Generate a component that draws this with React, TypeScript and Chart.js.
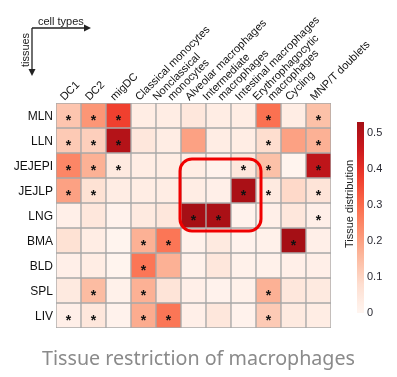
import React, { useEffect, useRef } from 'react';
import { Chart, registerables } from 'chart.js';

Chart.register(...registerables);

// ---- data ----
const tissues = ['MLN', 'LLN', 'JEJEPI', 'JEJLP', 'LNG', 'BMA', 'BLD', 'SPL', 'LIV'];
const cellTypes = [
  'DC1',
  'DC2',
  'migDC',
  'Classical monocytes',
  'Nonclassical\nmonocytes',
  'Alveolar macrophages',
  'Intermediate\nmacrophages',
  'Intestinal macrophages',
  'Erythrophagocytic\nmacrophages',
  'Cycling',
  'MNP/T doublets',
];

const valuesMLN = [0.13, 0.22, 0.37, 0.03, 0.03, 0.05, 0.03, 0.03, 0.29, 0.03, 0.14];
const valuesLLN = [0.12, 0.11, 0.5, 0.05, 0.03, 0.2, 0.03, 0.03, 0.08, 0.2, 0.17];
const valuesJEJEPI = [0.25, 0.17, 0.04, 0.03, 0.03, 0.03, 0.01, 0.05, 0.14, 0.005, 0.48];
const valuesJEJLP = [0.2, 0.07, 0.03, 0.03, 0.03, 0.03, 0.02, 0.52, 0.04, 0.09, 0.06];
const valuesLNG = [0.02, 0.05, 0.01, 0.04, 0.05, 0.53, 0.52, 0.01, 0.02, 0.05, 0.02];
const valuesBMA = [0.07, 0.03, 0.005, 0.17, 0.28, 0.015, 0.04, 0.01, 0.015, 0.53, 0.02];
const valuesBLD = [0.02, 0.03, 0.005, 0.28, 0.17, 0.015, 0.05, 0.015, 0.015, 0.02, 0.02];
const valuesSPL = [0.04, 0.15, 0.015, 0.17, 0.06, 0.02, 0.01, 0.015, 0.17, 0.05, 0.04];
const valuesLIV = [0.02, 0.05, 0.01, 0.18, 0.28, 0.02, 0.05, 0.01, 0.12, 0.04, 0.03];
const values = [valuesMLN, valuesLLN, valuesJEJEPI, valuesJEJLP, valuesLNG, valuesBMA, valuesBLD, valuesSPL, valuesLIV];

// significance marks (1 = asterisk)
const starsMLN = [1, 1, 1, 0, 0, 0, 0, 0, 1, 0, 1];
const starsLLN = [1, 1, 1, 0, 0, 0, 0, 0, 1, 0, 1];
const starsJEJEPI = [1, 1, 1, 0, 0, 0, 0, 1, 1, 0, 1];
const starsJEJLP = [1, 1, 0, 0, 0, 0, 0, 1, 1, 0, 1];
const starsLNG = [0, 0, 0, 0, 0, 1, 1, 0, 0, 0, 1];
const starsBMA = [0, 0, 0, 1, 1, 0, 0, 0, 0, 1, 0];
const starsBLD = [0, 0, 0, 1, 0, 0, 0, 0, 0, 0, 0];
const starsSPL = [0, 1, 0, 1, 0, 0, 0, 0, 1, 0, 0];
const starsLIV = [1, 1, 0, 1, 1, 0, 0, 0, 1, 0, 0];
const stars = [starsMLN, starsLLN, starsJEJEPI, starsJEJLP, starsLNG, starsBMA, starsBLD, starsSPL, starsLIV];

const colorbarTicks = [0, 0.1, 0.2, 0.3, 0.4, 0.5];
const colorMax = 0.53;
const highlightCols = [5, 7]; // Alveolar .. Intestinal
const highlightRows = [2, 4]; // JEJEPI .. LNG

// ---- colour map (matplotlib "Reds", truncated) ----
const REDS: number[][] = [
  [255, 245, 240], [254, 224, 210], [252, 187, 161], [252, 146, 114], [251, 106, 74],
  [239, 59, 44], [203, 24, 29], [165, 15, 21], [103, 0, 13],
];
function reds(t: number): string {
  const c = Math.max(0, Math.min(1, t)) * (REDS.length - 1);
  const i = Math.min(REDS.length - 2, Math.floor(c));
  const f = c - i;
  const a = REDS[i], b = REDS[i + 1];
  const m = (k: number) => Math.round(a[k] + (b[k] - a[k]) * f);
  return `rgb(${m(0)},${m(1)},${m(2)})`;
}
const colorOf = (v: number) => reds(Math.min(v / colorMax, 1) * 0.875);

const FONT = '"Liberation Sans", Arial, sans-serif';

function arrow(ctx: CanvasRenderingContext2D, x1: number, y1: number, x2: number, y2: number) {
  const ang = Math.atan2(y2 - y1, x2 - x1);
  ctx.beginPath();
  ctx.moveTo(x1, y1);
  ctx.lineTo(x2 - 5 * Math.cos(ang), y2 - 5 * Math.sin(ang));
  ctx.stroke();
  ctx.beginPath();
  ctx.moveTo(x2, y2);
  ctx.lineTo(x2 - 7 * Math.cos(ang) + 3.5 * Math.sin(ang), y2 - 7 * Math.sin(ang) - 3.5 * Math.cos(ang));
  ctx.lineTo(x2 - 7 * Math.cos(ang) - 3.5 * Math.sin(ang), y2 - 7 * Math.sin(ang) + 3.5 * Math.cos(ang));
  ctx.closePath();
  ctx.fill();
}

const overlay = {
  id: 'overlay',
  afterDraw(chart: any) {
    const ctx: CanvasRenderingContext2D = chart.ctx;
    const xs = chart.scales.x;
    const ys = chart.scales.y;
    const area = chart.chartArea;
    ctx.save();

    // asterisks
    ctx.fillStyle = '#111';
    ctx.font = `bold 14px ${FONT}`;
    ctx.textAlign = 'center';
    ctx.textBaseline = 'alphabetic';
    tissues.forEach((_, i) => {
      const meta = chart.getDatasetMeta(i);
      meta.data.forEach((el: any, j: number) => {
        if (stars[i][j]) {
          const cy = (el.y + el.base) / 2;
          ctx.fillText('*', el.x, cy + 9);
        }
      });
    });

    // row labels
    ctx.font = `12px ${FONT}`;
    ctx.fillStyle = '#111';
    ctx.textAlign = 'right';
    ctx.textBaseline = 'middle';
    tissues.forEach((t, i) => {
      ctx.fillText(t, area.left - 3, ys.getPixelForValue(i + 0.5) + 1);
    });

    // column labels
    ctx.font = `11px ${FONT}`;
    ctx.textAlign = 'left';
    ctx.textBaseline = 'alphabetic';
    cellTypes.forEach((label, j) => {
      const lines = label.split('\n');
      const cx = xs.getPixelForValue(j);
      lines.forEach((ln, k) => {
        const sx = cx - 4 + (k - (lines.length - 1) / 2) * 15;
        const sy = area.top - 2;
        ctx.save();
        ctx.translate(sx, sy);
        ctx.rotate(-Math.PI / 4);
        ctx.fillText(ln, 0, 0);
        ctx.restore();
      });
    });

    // highlight box
    const hx1 = xs.getPixelForValue(highlightCols[0]) - 13.5;
    const hx2 = xs.getPixelForValue(highlightCols[1]) + 17.5;
    const hy1 = ys.getPixelForValue(highlightRows[0]) + 6;
    const hy2 = ys.getPixelForValue(highlightRows[1] + 1) + 3;
    ctx.strokeStyle = 'rgb(240,0,0)';
    ctx.lineWidth = 3;
    ctx.beginPath();
    ctx.roundRect(hx1, hy1, hx2 - hx1, hy2 - hy1, 12);
    ctx.stroke();

    // colour bar
    const cbX = 357, cbW = 7, cbTop = 122, cbBot = 313;
    const cbY = (v: number) => cbBot - (v / colorMax) * (cbBot - cbTop);
    const grad = ctx.createLinearGradient(0, cbBot, 0, cbTop);
    for (let s = 0; s <= 20; s++) grad.addColorStop(s / 20, reds((s / 20) * 0.875));
    ctx.fillStyle = grad;
    ctx.fillRect(cbX, cbTop, cbW, cbBot - cbTop);
    ctx.fillStyle = '#2a2a33';
    ctx.font = `11px ${FONT}`;
    ctx.textAlign = 'left';
    ctx.textBaseline = 'middle';
    colorbarTicks.forEach((v) => {
      ctx.fillText(String(v), cbX + 10, cbY(v));
    });
    ctx.save();
    ctx.translate(353, 204);
    ctx.rotate(-Math.PI / 2);
    ctx.textAlign = 'center';
    ctx.textBaseline = 'alphabetic';
    ctx.fillStyle = '#222';
    ctx.fillText('Tissue distribution', 0, 0);
    ctx.restore();

    // axis-direction key
    ctx.strokeStyle = '#222';
    ctx.fillStyle = '#222';
    ctx.lineWidth = 1.3;
    arrow(ctx, 32, 28, 91, 28);
    arrow(ctx, 32, 28, 32, 76);
    ctx.font = `11px ${FONT}`;
    ctx.textAlign = 'left';
    ctx.textBaseline = 'alphabetic';
    ctx.fillText('cell types', 38, 25);
    ctx.save();
    ctx.translate(29, 50);
    ctx.rotate(-Math.PI / 2);
    ctx.textAlign = 'center';
    ctx.fillText('tissues', 0, 0);
    ctx.restore();

    // caption
    ctx.fillStyle = '#8a8a8a';
    ctx.font = '19.7px "Noto Sans", sans-serif';
    ctx.textAlign = 'center';
    ctx.textBaseline = 'alphabetic';
    ctx.fillText('Tissue restriction of macrophages', 198.5, 365);

    ctx.restore();
  },
};

export default function App() {
  const ref = useRef<HTMLCanvasElement>(null);
  useEffect(() => {
    const chart = new Chart(ref.current as HTMLCanvasElement, {
      type: 'bar',
      data: {
        labels: cellTypes,
        datasets: tissues.map((t, i) => ({
          label: t,
          data: cellTypes.map(() => 1),
          backgroundColor: values[i].map(colorOf),
          borderColor: '#a8a8a8',
          borderWidth: 1,
          borderSkipped: false,
          barPercentage: 1,
          categoryPercentage: 1,
        })),
      },
      options: {
        responsive: false,
        animation: false,
        layout: { padding: { left: 56, top: 103, right: 66, bottom: 49 } },
        scales: {
          x: { stacked: true, display: false },
          y: { stacked: true, display: false, min: 0, max: tissues.length, reverse: true },
        },
        plugins: { legend: { display: false }, tooltip: { enabled: false } },
      },
      plugins: [overlay],
    } as any);
    return () => chart.destroy();
  }, []);
  return (
    <div style={{ position: 'fixed', left: 0, top: 0, width: 397, height: 377, background: '#fff' }}>
      <canvas ref={ref} width={397} height={377} style={{ display: 'block' }} />
    </div>
  );
}
